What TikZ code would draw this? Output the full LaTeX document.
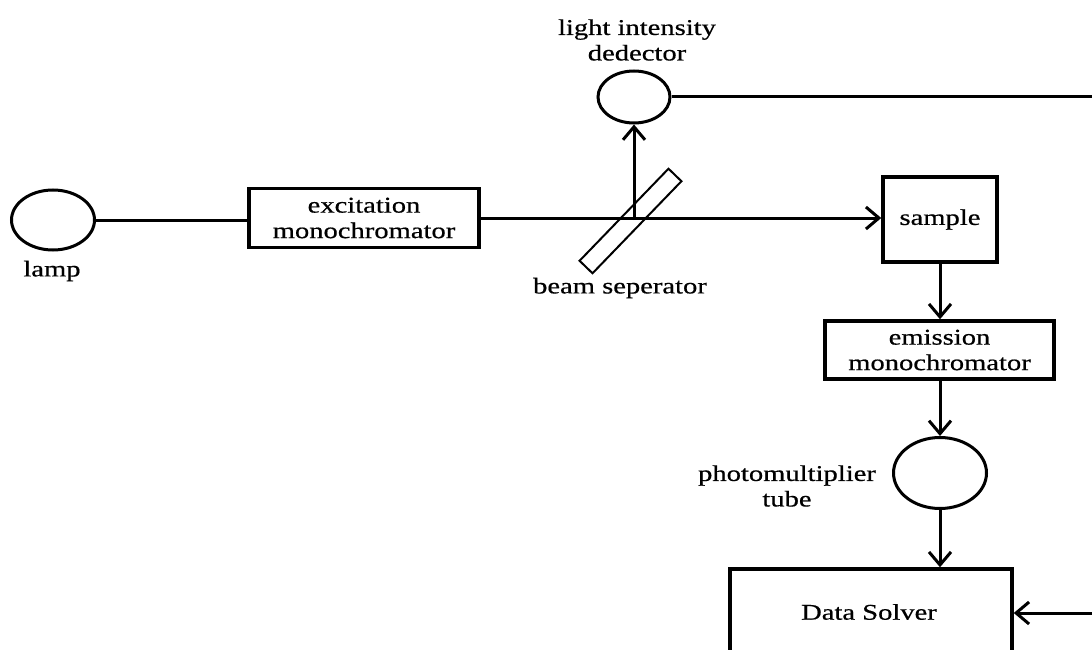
\documentclass[tikz,border=0pt]{standalone}
\usepackage{fontspec}
\setmainfont{Liberation Serif}[FakeStretch=1.27, FakeBold=0.6]
\usetikzlibrary{shapes.geometric,arrows.meta}

\tikzset{
  wire/.style={line width=3pt},
  flow/.style={wire, -{Straight Barb[length=13pt,width=22pt,line width=3pt]}},
  unit/.style={draw, line width=3.5pt, rectangle, inner sep=0pt, align=center},
  bulb/.style={draw, line width=3pt, ellipse, inner sep=0pt},
  caption/.style={align=center, inner sep=0pt},
}

\begin{document}
\begin{tikzpicture}[x=1pt, y=-1pt,
  every node/.style={font=\fontsize{22.5}{25.5}\selectfont}]
  \clip (0,0) rectangle (1092,650);
  \fill[white] (0,0) rectangle (1092,650);

  % light source and excitation path
  \node[bulb, minimum width=83pt, minimum height=60pt] (lamp) at (53,220) {};
  \node[caption] (lamplbl) at (52,271) {lamp};
  \node[unit, minimum width=230pt, minimum height=59pt] (exc) at (364,218)
       {excitation\\monochromator};
  \node[unit, minimum width=114pt, minimum height=85pt] (sample) at (940,219.5) {sample};

  % beam splitter plate and intensity detector
  \node[draw, line width=2pt, rectangle, rotate=46, inner sep=0pt,
        minimum width=128pt, minimum height=18pt] (split) at (630.5,221) {};
  \node[caption] (splitlbl) at (620,288) {beam seperator};
  \node[bulb, minimum width=72pt, minimum height=52pt] (det) at (634,97) {};
  \node[caption] (detlbl) at (637,40) {light intensity\\dedector};
  \coordinate (hit) at (634,220);

  % emission path
  \node[unit, minimum width=229pt, minimum height=58pt] (emi) at (939.5,350)
       {emission\\monochromator};
  \node[bulb, minimum width=93pt, minimum height=71pt] (pmt) at (940,473) {};
  \node[caption] (pmtlbl) at (787,486) {photomultiplier\\tube};
  \node[unit, minimum width=282pt, minimum height=120pt] (solver) at (871,629) {};
  \node[caption] (solverlbl) at (869,612) {Data Solver};

  % feedback line along the right edge
  \coordinate (r1) at (1092,97);
  \coordinate (r2) at (1092,613);

  % connectors
  \draw[wire] (lamp.east) -- (lamp.east -| exc.west);
  \draw[flow] (exc.east) -- (exc.east -| sample.west);
  \draw[flow] (hit) -- (det.south);
  \draw[wire] (det.east) -- (r1);
  \draw[flow] (sample.south) -- (emi.north -| sample.south);
  \draw[flow] (emi.south -| sample.south) -- (pmt.north);
  \draw[flow] (pmt.south) -- (pmt.south |- solver.north);
  \draw[flow] (r2) -- (r2 -| solver.east);
\end{tikzpicture}
\end{document}
